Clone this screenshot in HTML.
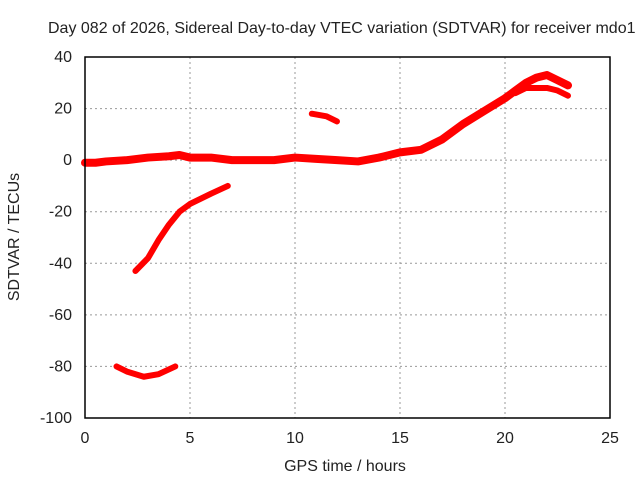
<!DOCTYPE html>
<html><head><meta charset="utf-8"><style>
body{margin:0;background:#fff}
svg text{font-family:"Liberation Sans",sans-serif;font-size:14px;fill:#222}
svg text.big{font-size:16px}
</style></head><body>
<svg width="640" height="480">
<rect width="640" height="480" fill="#fff"/>
<g id="grid"></g>
<g id="ticks"></g>
<g id="series"></g>
<rect x="85" y="57" width="525" height="361" fill="none" stroke="#000" stroke-width="1.5"/>
<text class="big" x="48" y="33">Day 082 of 2026, Sidereal Day-to-day VTEC variation (SDTVAR) for receiver mdo1</text>
<text class="big" x="345" y="471" text-anchor="middle">GPS time / hours</text>
<text class="big" x="19" y="237" text-anchor="middle" transform="rotate(-90 19 237)">SDTVAR / TECUs</text>
</svg>
<script>
const xTicks=[0,5,10,15,20,25];
const yTicks=[40,20,0,-20,-40,-60,-80,-100];
const mainX=[0,0.5,1,2,3,4,4.5,5,6,7,8,9,10,11,12,13,14,15,16,17,18,19,20,20.5,21,21.5,22,22.5,23];
const mainY=[-1,-1,-0.5,0,1,1.5,2,1,1,0,0,0,1,0.5,0,-0.5,1,3,4,8,14,19,24,27,30,32,33,31,29];
const branchX=[20.5,21,22,22.5,23];
const branchY=[26,28,28,27,25];
const arcX=[10.8,11.5,12];
const arcY=[18,17,15];
const riseX=[2.4,3,3.5,4,4.5,5,6,6.8];
const riseY=[-43,-38,-31,-25,-20,-17,-13,-10];
const lowX=[1.5,2,2.8,3.5,4.3];
const lowY=[-80,-82,-84,-83,-80];
const X=h=>85+h*21, Y=v=>57+(40-v)*361/140;
const NS="http://www.w3.org/2000/svg";
function mk(t,a,p){const e=document.createElementNS(NS,t);for(const k in a)e.setAttribute(k,a[k]);p.appendChild(e);return e;}
const g=document.getElementById('grid'),tk=document.getElementById('ticks'),s=document.getElementById('series');
xTicks.forEach(t=>{
 if(t>0&&t<25){const l=mk('line',{x1:X(t),x2:X(t),y1:57,y2:418,stroke:'#999','stroke-dasharray':'2,3'},g);
 }
 const tx=mk('text',{x:X(t),y:443,'text-anchor':'middle',class:'big'},tk);tx.textContent=t;
 
});
yTicks.forEach(t=>{
 if(t<40&&t>-100){const l=mk('line',{x1:85,x2:610,y1:Y(t),y2:Y(t),stroke:'#999','stroke-dasharray':'2,3'},g);
 }
 const tx=mk('text',{x:72,y:Y(t)+5,'text-anchor':'end',class:'big'},tk);tx.textContent=t;
 
});
function line(xs,ys,name,w){
 const p=mk('polyline',{points:xs.map((x,i)=>X(x)+','+Y(ys[i])).join(' '),fill:'none',stroke:'#f00','stroke-width':w,'stroke-linejoin':'round','stroke-linecap':'round'},s);
 
}
line(mainX,mainY,'main-series',8);
line(branchX,branchY,'branch-series',6);
line(arcX,arcY,'arc-series',6);
line(riseX,riseY,'rising-series',6);
line(lowX,lowY,'low-series',6);
</script>
</body></html>
